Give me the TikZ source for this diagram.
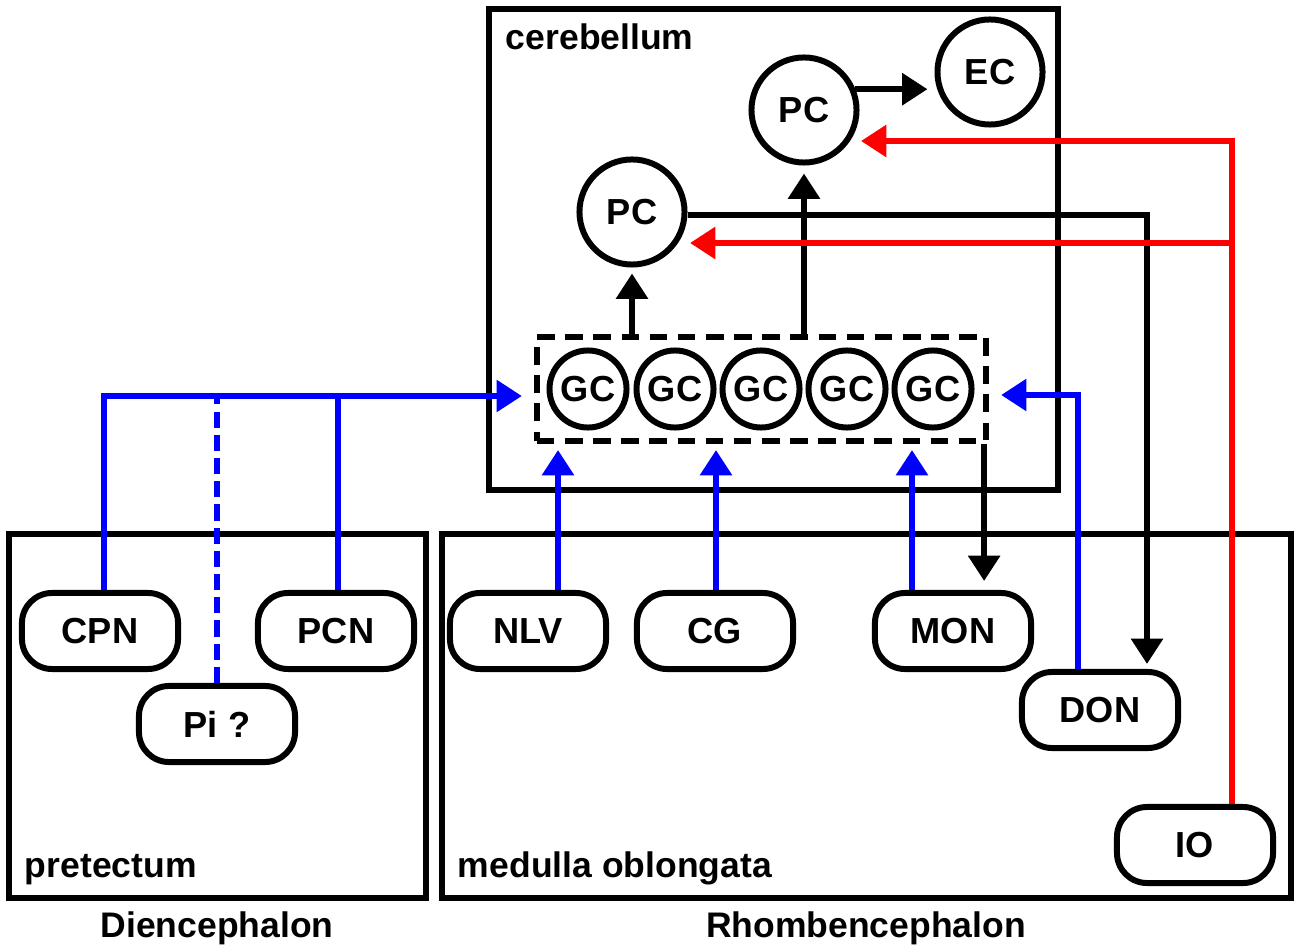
\documentclass[tikz,border=0pt]{standalone}
\usepackage{fontspec}
\setmainfont{Liberation Sans}
\usetikzlibrary{arrows.meta,calc}
\begin{document}
\begin{tikzpicture}[x=0.01cm,y=-0.01cm, line width=1.7pt,
 every node/.style={font=\bfseries\fontsize{10.3}{12}\selectfont},
 rbox/.style={draw, fill=white, rounded corners=0.3cm, minimum width=1.56cm, minimum height=0.76cm, inner sep=0pt},
 cell/.style={draw, fill=white, circle, minimum size=1.05cm, inner sep=0pt},
 gcell/.style={draw, fill=white, circle, minimum size=0.77cm, inner sep=0pt},
 tipped/.style={-{Triangle[length=7.2pt,width=8.8pt]}},
 arr/.style={tipped, draw=black},
 barr/.style={tipped, draw=blue},
 bline/.style={draw=blue},
 bdash/.style={draw=blue, dash pattern=on 4.6pt off 2pt},
 rarr/.style={tipped, draw=red},
 region/.style={draw=black},
 lab/.style={anchor=base west, inner sep=0pt, font=\bfseries\fontsize{10.1}{12}\selectfont},
 biglab/.style={anchor=base, inner sep=0pt, font=\bfseries\fontsize{10.1}{12}\selectfont}
]
\useasboundingbox (0,0) rectangle (1300,949);
% regions
\draw[region] (489,9) rectangle (1058,490);
\draw[region] (9,534) rectangle (426,898);
\draw[region] (442,534) rectangle (1291,898);
\node[lab] (lcer) at (503,50) {cerebellum};
\node[lab] (lpre) at (22,877) {pretectum};
\node[lab] (lmed) at (455,877) {medulla oblongata};
\node[biglab] (ldi) at (217,937) {Diencephalon};
\node[biglab] (lrh) at (866,937) {Rhombencephalon};
% cerebellum cells
\node[cell] (EC) at (990,72) {EC};
\node[cell] (PCt) at (804,110) {PC};
\node[cell] (PCl) at (632,212) {PC};
\node[draw, dash pattern=on 5pt off 3pt, minimum width=4.49cm, minimum height=1.04cm, inner sep=0pt] (gcbox) at (761.5,389) {};
\node[gcell] (GC1) at (588,389) {GC};
\node[gcell] (GC2) at (675,389) {GC};
\node[gcell] (GC3) at (761,389) {GC};
\node[gcell] (GC4) at (847,389) {GC};
\node[gcell] (GC5) at (933,389) {GC};
% nuclei
\node[rbox] (CPN) at (100,631) {CPN};
\node[rbox] (PCN) at (336,631) {PCN};
\node[rbox] (Pi) at (217,724) {Pi ?};
\node[rbox] (NLV) at (528,631) {NLV};
\node[rbox] (CG) at (715,631) {CG};
\node[rbox] (MON) at (953,631) {MON};
\node[rbox] (DON) at (1100,710) {DON};
\node[rbox] (IO) at (1195,845) {IO};
% black connectors
\coordinate (ectip) at ($(EC.west)+(-7,0)$);
\draw[arr] (PCt.22) -- (PCt.22 -| ectip);
\draw[arr] (gcbox.north -| PCl) -- ($(PCl.south)+(0,6)$);
\draw[arr] (gcbox.north -| PCt) -- ($(PCt.south)+(0,8)$);
\draw[arr] ($(PCl.east)+(0,3)$) -| ($(DON.north)+(47,-5)$);
\coordinate (gcr) at ($(gcbox.south east)+(-5,0)$);
\coordinate (montip) at ($(MON.north)+(0,-9)$);
\draw[arr] (gcr) -- (gcr |- montip);
% red connectors
\coordinate (rv) at ($(IO.north)+(37,0)$);
\coordinate (tipT) at ($(PCt)+(57,31)$);
\coordinate (tipL) at ($(PCl)+(58,31)$);
\draw[rarr] (rv) |- (tipT);
\draw[rarr] (tipL -| rv) -- (tipL);
% blue connectors
\coordinate (bl) at ($(gcbox.west)+(-12,7)$);
\coordinate (br) at ($(gcbox.east)+(12,6)$);
\coordinate (gb) at ($(gcbox.south)+(0,6)$);
\draw[barr] ($(CPN.north)+(4,0)$) |- (bl);
\coordinate (pcnt) at ($(PCN.north)+(2,0)$);
\draw[bline] (pcnt) -- (pcnt |- bl);
\draw[bdash] (Pi.north) -- (Pi.north |- bl);
\coordinate (nlvt) at ($(NLV.north)+(30,0)$);
\coordinate (cgt) at ($(CG.north)+(1,0)$);
\coordinate (mont) at ($(MON.north)+(-41,0)$);
\draw[barr] (nlvt) -- (nlvt |- gb);
\draw[barr] (cgt) -- (cgt |- gb);
\draw[barr] (mont) -- (mont |- gb);
\draw[barr] ($(DON.north)+(-22,0)$) |- (br);
\end{tikzpicture}
\end{document}
